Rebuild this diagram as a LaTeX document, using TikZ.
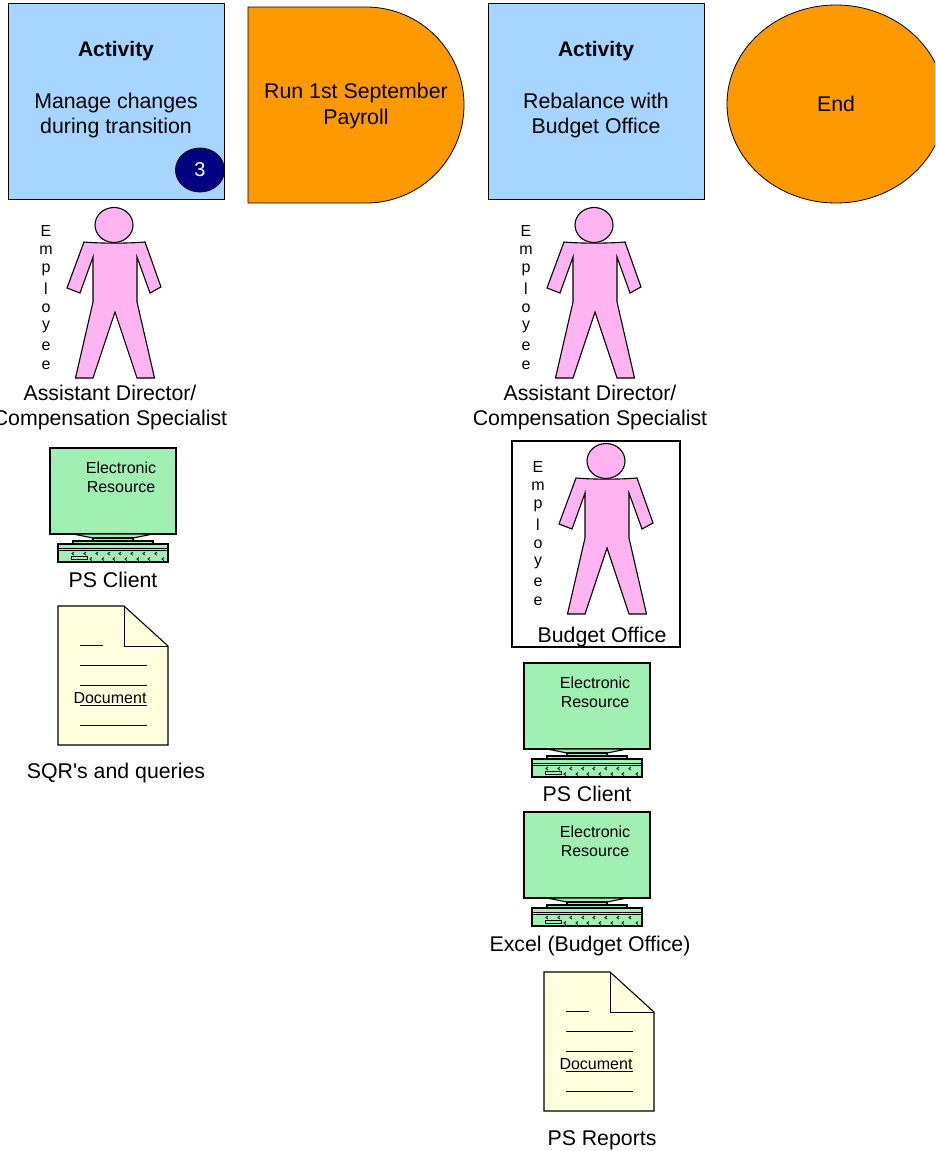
\documentclass[tikz,border=0pt]{standalone}
\usepackage{fontspec}
\usetikzlibrary{shapes.geometric}
\setmainfont{Liberation Sans}
\definecolor{actblue}{HTML}{A6D5FF}
\definecolor{evorange}{HTML}{FF9900}
\definecolor{navybadge}{HTML}{000080}
\definecolor{personpink}{HTML}{FFB3F0}
\definecolor{compgreen}{HTML}{A0F0B4}
\definecolor{docyellow}{HTML}{FFFFDD}
\tikzset{
  x=1pt,y=-1pt,
  outline/.style={draw=black,line width=1.1pt,line join=miter},
  thickline/.style={draw=black,line width=1.4pt},
  label20/.style={font=\fontsize{21.3}{25.5}\selectfont,align=center,inner sep=0pt,text=black},
  labelbold/.style={font=\bfseries\fontsize{21}{25.5}\selectfont,align=center,inner sep=0pt,text=black},
  label16/.style={font=\fontsize{16}{19}\selectfont,align=center,inner sep=0pt,text=black},
  person/.pic={
    \path[outline,fill=personpink] (114,225) ellipse [x radius=19,y radius=17.5];
    \path[outline,fill=personpink] (84,242) .. controls (100,243.5) and (128,243.5) .. (145,242)
      -- (161,287) -- (150,293) -- (137,257) -- (137,302) -- (154.5,378) -- (137,378) -- (115,312)
      -- (93,378) -- (75.5,378) -- (93,302) -- (93,257) -- (80,293) -- (67,288) -- cycle;
    \foreach \c [count=\i] in {E,m,p,l,o,y,e,e}
      \node[label16] (-l\i) at (46,{231+(\i-1)*19.2}) {\c};
  },
  computer/.pic={
    \path[thickline,fill=compgreen] (50,448) rectangle (176,534);
    \path[outline,fill=compgreen] (73,534) -- (93,538) -- (133,538) -- (153,534) -- cycle;
    \path[outline,fill=compgreen] (93,538) rectangle (133,541);
    \path[outline,fill=compgreen] (73,541) rectangle (153,544);
    \path[thickline,fill=compgreen] (58,544) rectangle (168,562);
    \draw[black,line width=.8pt] (58,548) -- (168,548) (58,550.5) -- (168,550.5);
    \path[draw=black,line width=.7pt,fill=compgreen] (71,556) rectangle (87,559);
    \foreach \kx in {72,84,96,108,119,131,143,155}
      \draw[black,line width=.8pt] (\kx+2,552) -- (\kx,553.5) -- (\kx+2,555);
    \foreach \kx in {90,102,113,125,137,148,162}
      \draw[black,line width=.8pt] (\kx+2,557.5) -- (\kx,559) -- (\kx+2,560.5);
    \node[label16] (-t) at (121,477) {Electronic\\Resource};
  },
  document/.pic={
    \path[outline,fill=docyellow] (58,606) -- (124,606) -- (168,646) -- (168,745) -- (58,745) -- cycle;
    \draw[black,line width=.8pt] (124,606) -- (124,646) -- (168,646);
    \draw[black,line width=.7pt] (80,645) -- (103,645) (80,665) -- (147,665) (80,685) -- (147,685)
      (80,705) -- (147,705) (80,725) -- (147,725);
    \node[label16] (-t) at (110,698.5) {Document};
  },
}
\begin{document}
\begin{tikzpicture}
\useasboundingbox (0,0) rectangle (935,1151);
% top row
\node[draw=black,line width=.8pt,fill=actblue,minimum width=216pt,minimum height=196pt,inner sep=0pt] (act1) at (116,101) {};
\node[labelbold] (act1h) at (116,51) {Activity};
\node[label20] (act1t) at (116,115.5) {Manage changes\\during transition};
\node[draw=black,line width=.8pt,fill=navybadge,ellipse,minimum width=49pt,minimum height=44pt,inner sep=0pt,text=white,font=\fontsize{20}{24}\selectfont] (badge) at (200,170) {3};
\path[draw=black,line width=.8pt,fill=evorange] (248,7) -- (366,7) arc [start angle=-90,end angle=90,x radius=98,y radius=98] -- (248,203) -- cycle;
\node[label20] (run) at (356,106) {Run 1st September\\Payroll};
\node[draw=black,line width=.8pt,fill=actblue,minimum width=216pt,minimum height=196pt,inner sep=0pt] (act2) at (596,101) {};
\node[labelbold] (act2h) at (596,51) {Activity};
\node[label20] (act2t) at (596,115.5) {Rebalance with\\Budget Office};
\begin{scope}
\clip (0,0) rectangle (935,1151);
\path[draw=black,line width=.8pt,fill=evorange] (836,104) ellipse [x radius=109,y radius=99];
\end{scope}
\node[label20] (endt) at (836,104) {End};
% column 1
\pic (p1) at (0,0) {person};
\node[label20] (p1c) at (110,407.5) {Assistant Director/\\Compensation Specialist};
\pic (c1) at (0,0) {computer};
\node[label20] (c1c) at (113,580) {PS Client};
\pic (d1) at (0,0) {document};
\node[label20] (d1c) at (116,773) {SQR\textquotesingle s and queries};
% column 2
\pic (p2) at (480,0) {person};
\node[label20] (p2c) at (590,407.5) {Assistant Director/\\Compensation Specialist};
\node[draw=black,line width=1.4pt,minimum width=168pt,minimum height=206pt,inner sep=0pt] (bbox) at (596,544) {};
\pic (p3) at (492,236) {person};
\node[label20] (p3c) at (602,637) {Budget Office};
\pic (c2) at (474,215) {computer};
\node[label20] (c2c) at (587,794) {PS Client};
\pic (c3) at (474,364) {computer};
\node[label20] (c3c) at (590,946) {Excel (Budget Office)};
\pic (d2) at (486,366) {document};
\node[label20] (d2c) at (602,1140) {PS Reports};
\end{tikzpicture}
\end{document}
